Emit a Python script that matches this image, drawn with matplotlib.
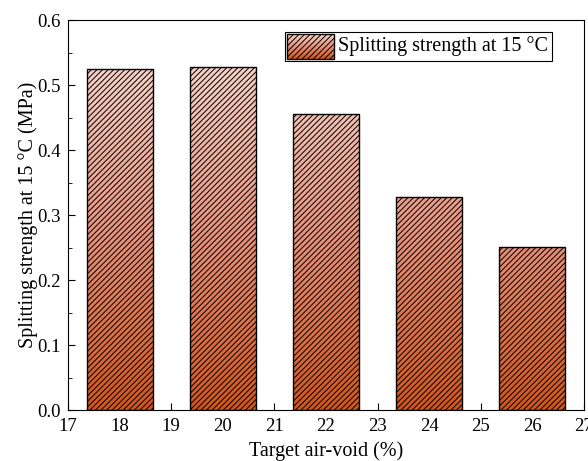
import numpy as np
import matplotlib.pyplot as plt
from matplotlib.patches import Rectangle
from matplotlib.colors import LinearSegmentedColormap

plt.rcParams['font.family'] = ['Liberation Serif', 'DejaVu Serif']
plt.rcParams['hatch.linewidth'] = 0.7

# data
air_void = [18, 20, 22, 24, 26]
strength = [0.525, 0.528, 0.456, 0.327, 0.251]
label = 'Splitting strength at 15 \u00b0C'

# gradient: bottom orange -> top light pink
cmap = LinearSegmentedColormap.from_list('grad', ['#D2561A', '#E8917A', '#F7D3C9'])
y_top = 0.53

fig = plt.figure(figsize=(5.88, 4.61), dpi=100)
ax = fig.add_axes([0.1156, 0.1106, 0.8774, 0.846])

width = 1.28
grad = np.linspace(0, 1, 256).reshape(-1, 1)
bars = ax.bar(air_void, strength, width=width, facecolor='none',
              edgecolor='black', hatch='//////', lw=1.0, zorder=3)
for b in bars:
    im = ax.imshow(grad, cmap=cmap, origin='lower', aspect='auto',
                   extent=[b.get_x(), b.get_x() + b.get_width(), 0, y_top],
                   vmin=0, vmax=1, zorder=2)
    im.set_clip_path(b)

ax.set_xlim(17, 27)
ax.set_ylim(0, 0.6)
ax.set_xticks(np.arange(17, 28, 1))
ax.set_xticks(np.arange(17.5, 27, 1), minor=True)
ax.set_yticks(np.arange(0, 0.61, 0.1))
ax.set_yticks(np.arange(0.05, 0.6, 0.1), minor=True)
ax.yaxis.set_major_formatter(plt.FormatStrFormatter('%.1f'))
ax.tick_params(which='both', direction='in', labelsize=13.5)
ax.tick_params(axis='x', which='major', pad=6)
ax.tick_params(axis='y', which='major', pad=5)
ax.tick_params(which='major', length=5)
ax.tick_params(which='minor', length=3)
ax.set_xlabel('Target air-void (%)', fontsize=14.5, labelpad=4)
ax.set_ylabel('Splitting strength at 15 \u00b0C (MPa)', fontsize=14.5, labelpad=0)

# legend drawn by hand so the swatch keeps gradient + hatch
ax.add_patch(Rectangle((0.4205, 0.895), 0.5175, 0.074, transform=ax.transAxes,
                       facecolor='white', edgecolor='black', lw=0.8, zorder=5))
sw = ax.imshow(grad, cmap=cmap, origin='lower', aspect='auto',
               extent=[0.4244, 0.5155, 0.900, 0.964], transform=ax.transAxes,
               vmin=0, vmax=1, zorder=6)
ax.add_patch(Rectangle((0.4244, 0.900), 0.0911, 0.064, transform=ax.transAxes,
                       facecolor='none', edgecolor='black', hatch='//////', lw=1.0, zorder=7))
ax.text(0.5233, 0.932, label, transform=ax.transAxes, fontsize=14.5,
        ha='left', va='center', zorder=8)
ax.set_xlim(17, 27)
ax.set_ylim(0, 0.6)

fig.savefig('out.png', dpi=100)
